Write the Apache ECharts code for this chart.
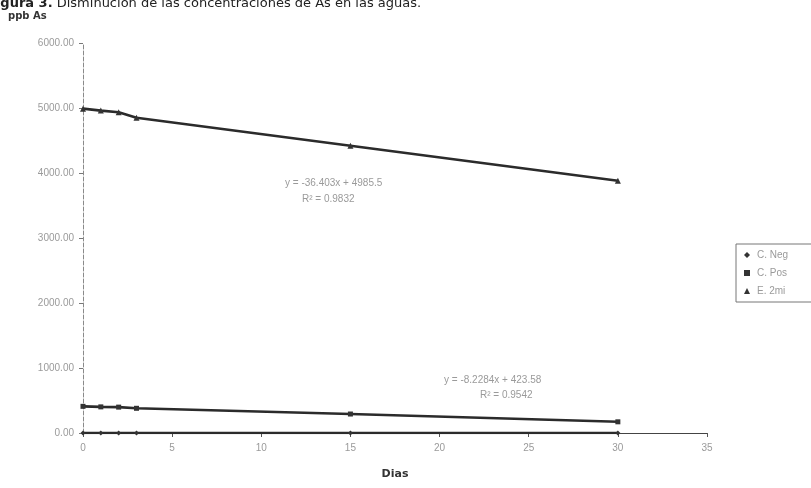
<!DOCTYPE html>
<html>
<head>
<meta charset="utf-8">
<script src="https://cdn.jsdelivr.net/npm/echarts@6/dist/echarts.min.js"></script>
<style>
  html, body { margin: 0; padding: 0; background: #fff; }
  #chart { width: 811px; height: 488px; }
</style>
</head>
<body>
<div id="chart"></div>
<script>
// Sampling days and arsenic concentration (ppb) per treatment
const dias = [0, 1, 2, 3, 15, 30];
const cNeg = [0, 0, 0, 0, 0, 0];
const cPos = [410, 402, 398, 380, 292, 172];
const e2mi = [4990, 4960, 4935, 4850, 4420, 3880];

const seriesNames = ['C. Neg', 'C. Pos', 'E. 2mi'];
const yTicks = [0, 1000, 2000, 3000, 4000, 5000, 6000];

const pairs = (xs, ys) => xs.map((x, i) => [x, ys[i]]);

const chart = echarts.init(document.getElementById('chart'));

const lineStyle = { color: '#2b2b2b', width: 2.6 };
const grey = '#9a9a9a';

chart.setOption({
  backgroundColor: '#ffffff',
  animation: false,
  grid: { left: 83, right: 104, top: 43, bottom: 55 },
  xAxis: {
    type: 'value', min: 0, max: 35, interval: 5,
    name: 'Dias', nameLocation: 'middle', nameGap: 36,
    nameTextStyle: { color: '#333', fontWeight: 'bold', fontSize: 11, fontFamily: 'DejaVu Sans' },
    axisLine: { show: true, lineStyle: { color: '#444', width: 1.2 } },
    axisTick: { show: true, length: 4, lineStyle: { color: '#555' } },
    axisLabel: { color: grey, fontSize: 10, margin: 10, fontFamily: 'Liberation Sans' },
    splitLine: { show: false }
  },
  yAxis: {
    type: 'value', min: yTicks[0], max: yTicks[yTicks.length - 1], interval: 1000,
    axisLine: { show: true, lineStyle: { color: '#8a8a8a', width: 1, type: 'dashed' } },
    axisTick: { show: true, length: 4, lineStyle: { color: '#777' } },
    axisLabel: { color: grey, fontSize: 10, margin: 9, fontFamily: 'Liberation Sans',
                 formatter: v => v.toFixed(2) },
    splitLine: { show: false }
  },
  legend: {
    orient: 'vertical', left: 736, top: 244,
    itemWidth: 6, itemHeight: 6, itemGap: 8,
    padding: [6, 40, 6, 8],
    borderColor: '#777', borderWidth: 1,
    textStyle: { color: grey, fontSize: 10, fontFamily: 'Liberation Sans', padding: [0, 0, 0, 2] },
    data: [
      { name: seriesNames[0], icon: 'diamond' },
      { name: seriesNames[1], icon: 'rect' },
      { name: seriesNames[2], icon: 'triangle' }
    ]
  },
  series: [
    { name: seriesNames[0], type: 'line', data: pairs(dias, cNeg),
      symbol: 'diamond', symbolSize: 5, itemStyle: { color: '#333' }, lineStyle },
    { name: seriesNames[1], type: 'line', data: pairs(dias, cPos),
      symbol: 'rect', symbolSize: 5, itemStyle: { color: '#333' }, lineStyle },
    { name: seriesNames[2], type: 'line', data: pairs(dias, e2mi),
      symbol: 'triangle', symbolSize: 6, itemStyle: { color: '#333' }, lineStyle }
  ],
  graphic: [
    { type: 'text', left: -13, top: -3,
      style: { text: '{b|Figura 3.} Disminución de las concentraciones de As en las aguas.',
               fill: '#222', font: '13px "DejaVu Sans"',
               rich: { b: { fontWeight: 'bold', fontSize: 13, fontFamily: 'DejaVu Sans', fill: '#222' } } } },
    { type: 'text', left: 8, top: 11,
      style: { text: 'ppb As', fill: '#333', font: 'bold 10px "DejaVu Sans"' } },
    { type: 'text', left: 285, top: 178,
      style: { text: 'y = -36.403x + 4985.5', fill: grey, font: '10px "Liberation Sans"' } },
    { type: 'text', left: 302, top: 194,
      style: { text: 'R² = 0.9832', fill: grey, font: '10px "Liberation Sans"' } },
    { type: 'text', left: 444, top: 375,
      style: { text: 'y = -8.2284x + 423.58', fill: grey, font: '10px "Liberation Sans"' } },
    { type: 'text', left: 480, top: 390,
      style: { text: 'R² = 0.9542', fill: grey, font: '10px "Liberation Sans"' } }
  ]
});
</script>
</body>
</html>
